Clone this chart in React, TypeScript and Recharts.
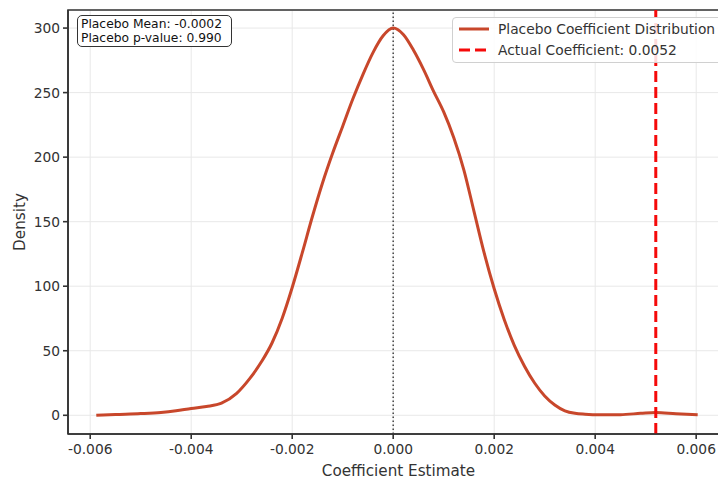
import React from 'react'
import { CartesianGrid, Legend, Line, LineChart, ReferenceArea, ReferenceLine, XAxis, YAxis } from 'recharts';

// placebo coefficient KDE
const coefficientGrid = [-0.00588, -0.0055, -0.005, -0.0046, -0.0043, -0.004, -0.0037, -0.0034, -0.0031, -0.00285,
    -0.0026, -0.0024, -0.0022, -0.002, -0.0018, -0.0016, -0.0014, -0.0012, -0.001, -0.0008, -0.0006, -0.0004, -0.0002,
    0, 0.0002, 0.0004, 0.0006, 0.0008, 0.001, 0.0012, 0.0014, 0.0016, 0.0018, 0.002, 0.0022, 0.0024, 0.0026, 0.0028,
    0.003, 0.0032, 0.0034, 0.0036, 0.0038, 0.0041, 0.0045, 0.0049, 0.0052, 0.0056, 0.00603];
const densityValues = [0, 0.6, 1.3, 2.2, 3.5, 5.3, 6.8, 9.4, 17, 28,
    42, 56, 75, 99, 126, 154, 180, 203, 224, 245, 264, 281, 294,
    300, 295, 283, 268, 251, 235, 215, 190, 158, 126, 98, 74, 54, 38, 25,
    15, 8, 3.5, 1.5, 0.8, 0.4, 0.5, 1.5, 2.2, 1.2, 0.4];

const xTicks = [-0.006, -0.004, -0.002, 0, 0.002, 0.004, 0.006];
const yTicks = [0, 50, 100, 150, 200, 250, 300];

const actualCoefficient = 0.0052;
const placeboMean = -0.0002;
const placeboPValue = 0.990;

const X_DOMAIN = [-0.00644, 0.00665];
const Y_DOMAIN = [-14.5, 314];

const CURVE_COLOR = '#c8472b';
const ACTUAL_COLOR = '#f50a0a';
const FONT = '"DejaVu Sans", sans-serif';
const TEXT_COLOR = '#333';

const chartData = coefficientGrid.map((x, i) => ({ x, density: densityValues[i] }));

//CUSTOM LEGEND (matplotlib style box)
const renderLegend = () => (
    <div style={{ background: 'rgba(255,255,255,0.85)', border: '1px solid #d0d0d0', borderRadius: 4, padding: '0 0 2px 5px', width: 280, fontFamily: FONT, fontSize: 13.8, color: TEXT_COLOR }}>
        <div style={{ display: 'flex', alignItems: 'center', height: 21 }}>
            <svg width={32} height={6} style={{ marginRight: 8 }}><line x1={1} y1={3} x2={31} y2={3} stroke={CURVE_COLOR} strokeWidth={3} /></svg>
            <span>Placebo Coefficient Distribution</span>
        </div>
        <div style={{ display: 'flex', alignItems: 'center', height: 21 }}>
            <svg width={32} height={6} style={{ marginRight: 8 }}><line x1={1} y1={3} x2={31} y2={3} stroke={ACTUAL_COLOR} strokeWidth={3} strokeDasharray="11 5" /></svg>
            <span>{`Actual Coefficient: ${actualCoefficient.toFixed(4)}`}</span>
        </div>
    </div>
);

export default function App() {
    return (
        <div style={{ position: 'fixed', left: 0, top: 0, width: 718, height: 479, overflow: 'hidden', background: '#fff' }}>
            <LineChart width={740} height={479} data={chartData} margin={{ top: 10, right: 11, bottom: 0, left: 0 }}>
                <CartesianGrid stroke="#e8e8e8" strokeWidth={1} />
                <XAxis
                    dataKey="x"
                    type="number"
                    domain={X_DOMAIN}
                    allowDataOverflow
                    ticks={xTicks}
                    tickFormatter={(v: number) => v.toFixed(3)}
                    height={45}
                    tickSize={5}
                    tickMargin={5}
                    stroke={TEXT_COLOR}
                    strokeWidth={1.6}
                    tick={{ fill: TEXT_COLOR, fontSize: 13.8, fontFamily: FONT }}
                    label={{ value: 'Coefficient Estimate', position: 'insideBottom', offset: 3, fill: TEXT_COLOR, fontSize: 15.2, fontFamily: FONT }}
                />
                <YAxis
                    type="number"
                    domain={Y_DOMAIN}
                    allowDataOverflow
                    ticks={yTicks}
                    width={68}
                    tickSize={5}
                    tickMargin={3}
                    stroke={TEXT_COLOR}
                    strokeWidth={1.6}
                    tick={{ fill: TEXT_COLOR, fontSize: 13.8, fontFamily: FONT }}
                    label={{ value: 'Density', angle: -90, position: 'insideLeft', offset: 20, fill: TEXT_COLOR, fontSize: 15.2, fontFamily: FONT, style: { textAnchor: 'middle' } }}
                />
                <ReferenceArea x1={X_DOMAIN[0]} x2={X_DOMAIN[1]} y1={Y_DOMAIN[0]} y2={Y_DOMAIN[1]} fill="none" stroke={TEXT_COLOR} strokeWidth={1.6} />
                <ReferenceLine x={0} stroke="#444" strokeWidth={1.5} strokeDasharray="1.5 2.5" />
                <Line dataKey="density" type="monotone" stroke={CURVE_COLOR} strokeWidth={3} dot={false} isAnimationActive={false} />
                <ReferenceLine x={actualCoefficient} stroke={ACTUAL_COLOR} strokeWidth={3} strokeDasharray="11 5" />
                <Legend content={renderLegend} layout="horizontal" verticalAlign="middle" align="center" wrapperStyle={{ position: 'absolute', left: 452, top: 17, width: 290 }} />
            </LineChart>
            <div style={{ position: 'absolute', left: 77, top: 15, width: 147, border: '1.5px solid #333', borderRadius: 5, background: '#fff', padding: '1px 3px', fontFamily: FONT, fontSize: 12.3, lineHeight: '14px', color: '#111' }}>
                <div>{`Placebo Mean: ${placeboMean.toFixed(4)}`}</div>
                <div>{`Placebo p-value: ${placeboPValue.toFixed(3)}`}</div>
            </div>
        </div>
    )
}
